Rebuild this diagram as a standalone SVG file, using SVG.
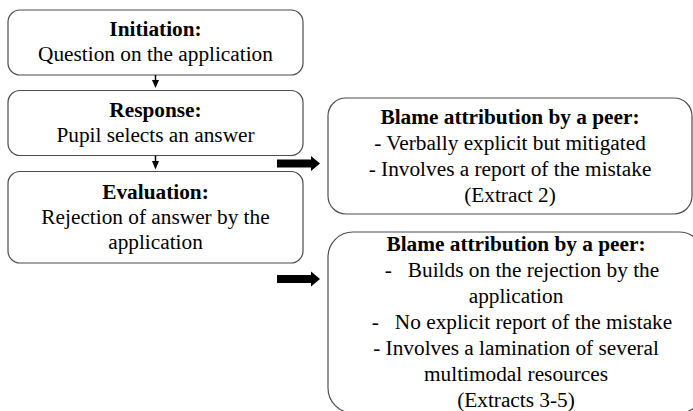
<svg xmlns="http://www.w3.org/2000/svg" width="693" height="411" viewBox="0 0 693 411" font-family="'Liberation Serif', 'Times New Roman', Tinos, 'DejaVu Serif', serif">
<style>
.box{fill:#fff;stroke:#4d4d4d;stroke-width:1.2}
text{font-family:'Liberation Serif','Times New Roman',Tinos,'DejaVu Serif',serif;font-size:21.3px;fill:#000;text-anchor:middle}
.b{font-weight:bold}
.arr{fill:#000}
</style>
<rect width="693" height="411" fill="#fff"/>
<g id="initiation">
<rect class="box" x="8" y="10" width="295" height="65" rx="12"/>
<text class="b" x="155.5" y="36">Initiation:</text>
<text x="155.5" y="61">Question on the application</text>
</g>
<g id="response">
<rect class="box" x="8" y="90.5" width="295" height="65" rx="12"/>
<text class="b" x="155.5" y="117">Response:</text>
<text x="155.5" y="142">Pupil selects an answer</text>
</g>
<g id="evaluation">
<rect class="box" x="8" y="171.5" width="295" height="91.5" rx="12"/>
<text class="b" x="155.5" y="199">Evaluation:</text>
<text x="155.5" y="224">Rejection of answer by the</text>
<text x="155.5" y="249">application</text>
</g>
<g id="blame1">
<rect class="box" x="328" y="98" width="364" height="116" rx="18"/>
<text class="b" x="510" y="124">Blame attribution by a peer:</text>
<text x="510" y="150">- Verbally explicit but mitigated</text>
<text x="510" y="176">- Involves a report of the mistake</text>
<text x="510" y="202">(Extract 2)</text>
</g>
<g id="blame2">
<rect class="box" x="328" y="232" width="376" height="181" rx="25"/>
<text class="b" x="516" y="251">Blame attribution by a peer:</text>
<text x="522" y="277" style="white-space:pre">-   Builds on the rejection by the</text>
<text x="516" y="303">application</text>
<text x="522" y="329" style="white-space:pre">-   No explicit report of the mistake</text>
<text x="516" y="355">- Involves a lamination of several</text>
<text x="516" y="381">multimodal resources</text>
<text x="516" y="407">(Extracts 3-5)</text>
</g>
<g id="connectors">
<line x1="155.5" y1="75" x2="155.5" y2="81" stroke="#000" stroke-width="1.5"/>
<polygon class="arr" points="152,80 159,80 155.5,88"/>
<line x1="155.5" y1="155.5" x2="155.5" y2="162" stroke="#000" stroke-width="1.5"/>
<polygon class="arr" points="152,161 159,161 155.5,169.5"/>
<polygon class="arr" points="277,159.5 311,159.5 311,156 320,163.5 311,171 311,167.5 277,167.5"/>
<polygon class="arr" points="277,275 311,275 311,271.5 320,279 311,286.5 311,283 277,283"/>
</g>
</svg>
